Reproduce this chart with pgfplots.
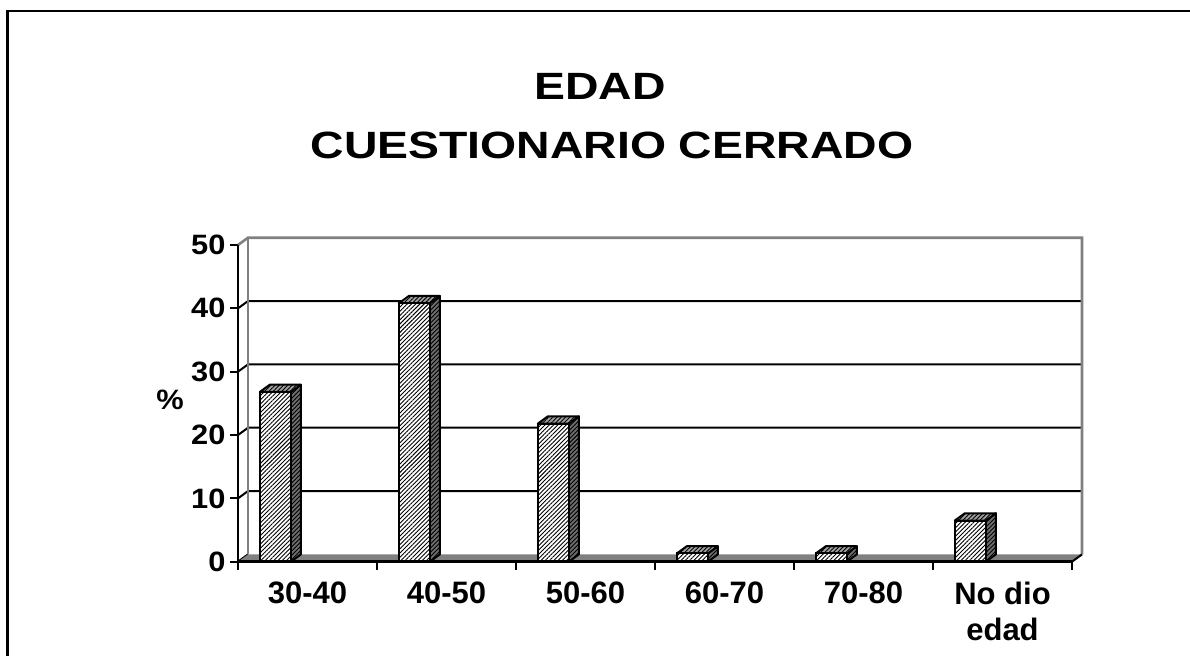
\documentclass[border=0pt]{standalone}
\usepackage{pgfplots}
\pgfplotsset{compat=1.18}
\usepackage{pgfplotstable}
\usepackage{graphicx}
\usepackage{fontspec}
\setmainfont{Liberation Sans}
\usetikzlibrary{patterns.meta}

\definecolor{wallgray}{HTML}{808080}
\definecolor{sidegray}{HTML}{6E6E6E}
\definecolor{topgray}{HTML}{A0A0A0}

\pgfplotstableread{
x v
0 26.8
1 40.8
2 21.8
3 1.3
4 1.3
5 6.5
}\edad

\def\bo{-0.343}
\def\bw{0.223}
\def\dx{0.072}
\def\dy{1.15}
\newcommand\ys[1]{\scalebox{1.1}[1]{#1}}

\tikzset{
  hatch/.style={pattern={Lines[angle=45,distance=3bp,line width=0.9bp]}, pattern color=black},
}

\begin{document}
\begin{tikzpicture}
\useasboundingbox (0,0) rectangle (1190bp,-656bp);
\clip (0,0) rectangle (1190bp,-656bp);
\draw[line width=2.4bp] (7.5bp,-11bp) rectangle (1400bp,-900bp);

\node[font=\fontsize{38bp}{40bp}\selectfont\bfseries] at (600bp,-86bp) {\scalebox{1.22}[1]{EDAD}};
\node[font=\fontsize{38bp}{40bp}\selectfont\bfseries] at (612bp,-145bp) {\scalebox{1.22}[1]{CUESTIONARIO CERRADO}};
\node[font=\fontsize{28bp}{30bp}\selectfont\bfseries] at (170bp,-400bp) {\scalebox{1.1}[1]{\%}};

\begin{axis}[
  at={(238bp,-561.7bp)}, anchor=south west,
  scale only axis, width=847.9bp, height=324.3bp,
  xmin=-0.5, xmax=5.6, ymin=0, ymax=51.2,
  axis line style={draw=none},
  clip=false,
  tick align=outside,
  xtick pos=bottom, ytick pos=left,
  major tick length=8bp,
  tick style={black, line width=2bp},
  ytick={0,10,20,30,40,50},
  yticklabels={\ys{0},\ys{10},\ys{20},\ys{30},\ys{40},\ys{50}},
  yticklabel style={font=\fontsize{28bp}{30bp}\selectfont\bfseries, xshift=-1bp},
  xtick={-0.5,0.5,1.5,2.5,3.5,4.5,5.5},
  xticklabels={},
  extra x ticks={0,1,2,3,4,5},
  extra x tick labels={30-40,40-50,50-60,60-70,70-80,{No dio\\edad}},
  extra x tick style={major tick length=0pt},
  xticklabel style={font=\fontsize{31bp}{36bp}\selectfont\bfseries, align=center, yshift=-17bp},
]
% left wall and back wall
\addplot[fill=white, draw=none] coordinates {(-0.5,0) (-0.428,1.15) (5.572,1.15) (5.572,51.15) (-0.428,51.15) (-0.5,50)} -- cycle;
% gridlines (left wall diagonal + back wall)
\addplot[black, line width=2bp] coordinates {(-0.5,0) (-0.428,1.15)};
\addplot[black, line width=2bp] coordinates {(-0.5,10) (-0.428,11.15) (5.572,11.15)};
\addplot[black, line width=2bp] coordinates {(-0.5,20) (-0.428,21.15) (5.572,21.15)};
\addplot[black, line width=2bp] coordinates {(-0.5,30) (-0.428,31.15) (5.572,31.15)};
\addplot[black, line width=2bp] coordinates {(-0.5,40) (-0.428,41.15) (5.572,41.15)};
% wall outline
\addplot[wallgray, line width=2.6bp] coordinates {(-0.5,50) (-0.428,51.15) (5.572,51.15) (5.572,1.15)};
\addplot[wallgray, line width=2.6bp] coordinates {(-0.428,1.15) (-0.428,51.15)};
% floor
\addplot[fill=wallgray, draw=none] coordinates {(-0.5,0) (5.5,0) (5.572,1.15) (-0.428,1.15)} -- cycle;
\addplot[black, line width=2bp] coordinates {(5.5,0) (5.572,1.15)};
% bar side and top faces
\pgfplotsinvokeforeach{0,...,5}{
  \pgfplotstablegetelem{#1}{v}\of\edad
  \pgfmathsetmacro\xa{#1+\bo}
  \pgfmathsetmacro\xb{#1+\bo+\bw}
  \pgfmathsetmacro\xc{#1+\bo+\bw+\dx}
  \pgfmathsetmacro\xd{#1+\bo+\dx}
  \pgfmathsetmacro\vt{\pgfplotsretval+\dy}
  \edef\tmp{%
    \noexpand\addplot[fill=sidegray, draw=none] coordinates {(\xb,0) (\xc,\dy) (\xc,\vt) (\xb,\pgfplotsretval)} -- cycle;
    \noexpand\addplot[hatch, draw=black, line width=2bp, line join=round] coordinates {(\xb,0) (\xc,\dy) (\xc,\vt) (\xb,\pgfplotsretval)} -- cycle;
    \noexpand\addplot[fill=topgray, draw=none] coordinates {(\xa,\pgfplotsretval) (\xb,\pgfplotsretval) (\xc,\vt) (\xd,\vt)} -- cycle;
    \noexpand\addplot[hatch, draw=black, line width=2bp, line join=round] coordinates {(\xa,\pgfplotsretval) (\xb,\pgfplotsretval) (\xc,\vt) (\xd,\vt)} -- cycle;
  }\tmp
}
% bar front faces
\addplot[ybar, bar width=\bw, bar shift=0pt, fill=white, draw=none]
  table[x expr=\thisrow{x}+\bo+\bw/2, y=v]{\edad};
\addplot[ybar, bar width=\bw, bar shift=0pt, hatch, draw=black, line width=2bp]
  table[x expr=\thisrow{x}+\bo+\bw/2, y=v]{\edad};
% front axes
\addplot[black, line width=2.8bp] coordinates {(-0.5,50) (-0.5,0) (5.5,0)};
\end{axis}
\end{tikzpicture}
\end{document}
